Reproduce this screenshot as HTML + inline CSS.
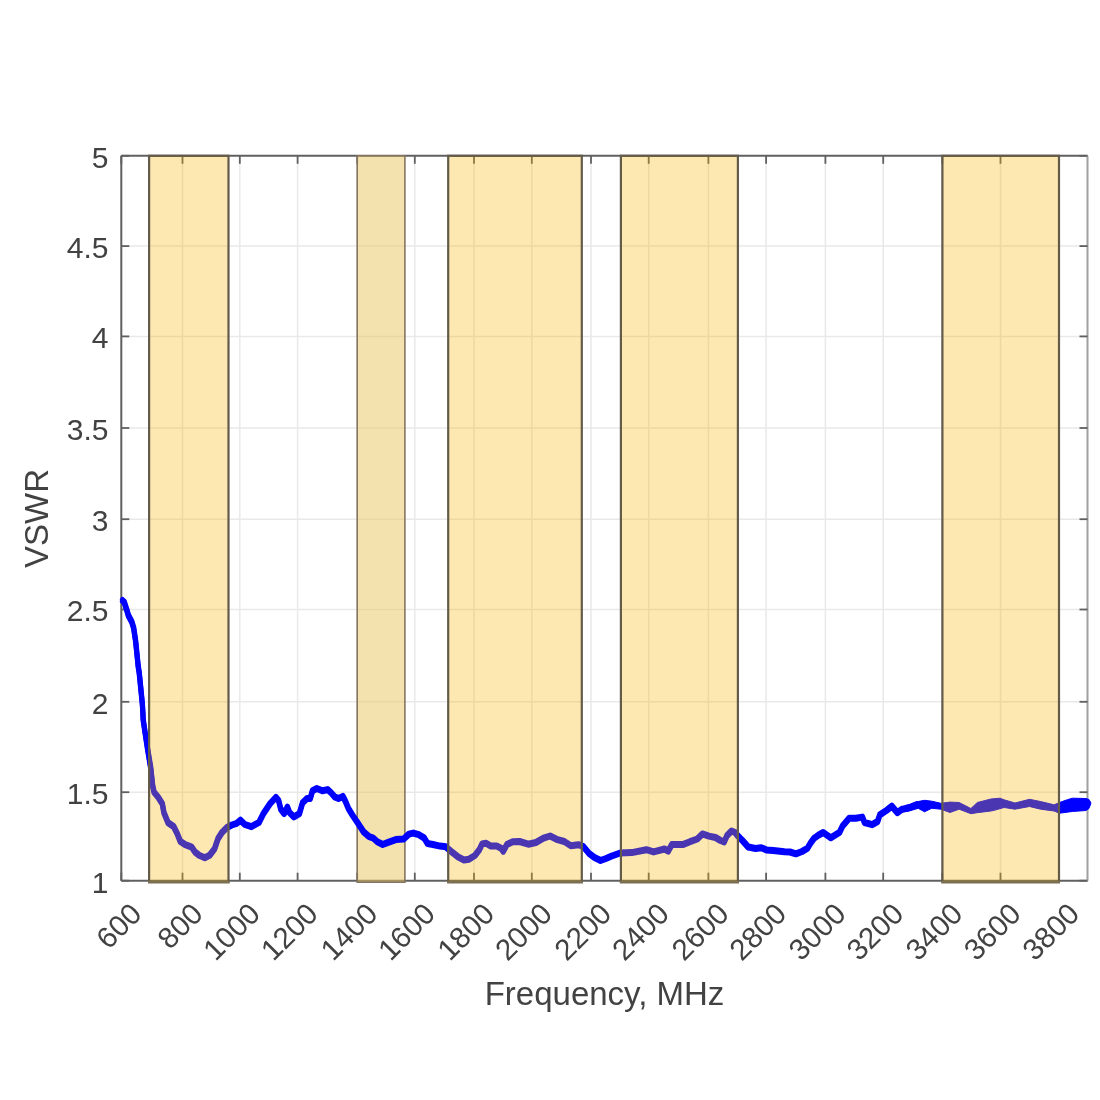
<!DOCTYPE html>
<html><head><meta charset="utf-8"><style>
html,body{margin:0;padding:0;background:#fff;}
svg{display:block;filter:blur(0.55px);}
text{font-family:"Liberation Sans",sans-serif;fill:#424242;}
</style></head><body>
<svg width="1100" height="1100" viewBox="0 0 1100 1100">
<rect width="1100" height="1100" fill="#fff"/>
<g stroke="#e9e9e9" stroke-width="1.5">
<line x1="182.5" y1="155.8" x2="182.5" y2="880.7"/>
<line x1="239.8" y1="155.8" x2="239.8" y2="880.7"/>
<line x1="297.6" y1="155.8" x2="297.6" y2="880.7"/>
<line x1="357.2" y1="155.8" x2="357.2" y2="880.7"/>
<line x1="414.8" y1="155.8" x2="414.8" y2="880.7"/>
<line x1="474.0" y1="155.8" x2="474.0" y2="880.7"/>
<line x1="531.8" y1="155.8" x2="531.8" y2="880.7"/>
<line x1="591.0" y1="155.8" x2="591.0" y2="880.7"/>
<line x1="648.7" y1="155.8" x2="648.7" y2="880.7"/>
<line x1="708.4" y1="155.8" x2="708.4" y2="880.7"/>
<line x1="766.1" y1="155.8" x2="766.1" y2="880.7"/>
<line x1="825.4" y1="155.8" x2="825.4" y2="880.7"/>
<line x1="883.2" y1="155.8" x2="883.2" y2="880.7"/>
<line x1="942.3" y1="155.8" x2="942.3" y2="880.7"/>
<line x1="1000.5" y1="155.8" x2="1000.5" y2="880.7"/>
<line x1="1059.0" y1="155.8" x2="1059.0" y2="880.7"/>
<line x1="121.3" y1="792.2" x2="1087.5" y2="792.2"/>
<line x1="121.3" y1="701.8" x2="1087.5" y2="701.8"/>
<line x1="121.3" y1="609.5" x2="1087.5" y2="609.5"/>
<line x1="121.3" y1="519.2" x2="1087.5" y2="519.2"/>
<line x1="121.3" y1="428" x2="1087.5" y2="428"/>
<line x1="121.3" y1="336.4" x2="1087.5" y2="336.4"/>
<line x1="121.3" y1="246.1" x2="1087.5" y2="246.1"/>
</g>
<g stroke="#606060" stroke-width="2">
<line x1="121.3" y1="155.8" x2="1087.5" y2="155.8"/>
<line x1="121.3" y1="880.7" x2="1087.5" y2="880.7"/>
<line x1="121.3" y1="155.8" x2="121.3" y2="880.7"/>
</g>
<line x1="1087.5" y1="155.8" x2="1087.5" y2="880.7" stroke="#a0a0a0" stroke-width="2"/>
<g stroke="#606060" stroke-width="1.8">
<line x1="121.3" y1="880.7" x2="121.3" y2="872.7"/>
<line x1="121.3" y1="155.8" x2="121.3" y2="163.8"/>
<line x1="182.5" y1="880.7" x2="182.5" y2="872.7"/>
<line x1="182.5" y1="155.8" x2="182.5" y2="163.8"/>
<line x1="239.8" y1="880.7" x2="239.8" y2="872.7"/>
<line x1="239.8" y1="155.8" x2="239.8" y2="163.8"/>
<line x1="297.6" y1="880.7" x2="297.6" y2="872.7"/>
<line x1="297.6" y1="155.8" x2="297.6" y2="163.8"/>
<line x1="357.2" y1="880.7" x2="357.2" y2="872.7"/>
<line x1="357.2" y1="155.8" x2="357.2" y2="163.8"/>
<line x1="414.8" y1="880.7" x2="414.8" y2="872.7"/>
<line x1="414.8" y1="155.8" x2="414.8" y2="163.8"/>
<line x1="474.0" y1="880.7" x2="474.0" y2="872.7"/>
<line x1="474.0" y1="155.8" x2="474.0" y2="163.8"/>
<line x1="531.8" y1="880.7" x2="531.8" y2="872.7"/>
<line x1="531.8" y1="155.8" x2="531.8" y2="163.8"/>
<line x1="591.0" y1="880.7" x2="591.0" y2="872.7"/>
<line x1="591.0" y1="155.8" x2="591.0" y2="163.8"/>
<line x1="648.7" y1="880.7" x2="648.7" y2="872.7"/>
<line x1="648.7" y1="155.8" x2="648.7" y2="163.8"/>
<line x1="708.4" y1="880.7" x2="708.4" y2="872.7"/>
<line x1="708.4" y1="155.8" x2="708.4" y2="163.8"/>
<line x1="766.1" y1="880.7" x2="766.1" y2="872.7"/>
<line x1="766.1" y1="155.8" x2="766.1" y2="163.8"/>
<line x1="825.4" y1="880.7" x2="825.4" y2="872.7"/>
<line x1="825.4" y1="155.8" x2="825.4" y2="163.8"/>
<line x1="883.2" y1="880.7" x2="883.2" y2="872.7"/>
<line x1="883.2" y1="155.8" x2="883.2" y2="163.8"/>
<line x1="942.3" y1="880.7" x2="942.3" y2="872.7"/>
<line x1="942.3" y1="155.8" x2="942.3" y2="163.8"/>
<line x1="1000.5" y1="880.7" x2="1000.5" y2="872.7"/>
<line x1="1000.5" y1="155.8" x2="1000.5" y2="163.8"/>
<line x1="1059.0" y1="880.7" x2="1059.0" y2="872.7"/>
<line x1="1059.0" y1="155.8" x2="1059.0" y2="163.8"/>
<line x1="121.3" y1="880.7" x2="129.3" y2="880.7"/>
<line x1="1087.5" y1="880.7" x2="1079.5" y2="880.7"/>
<line x1="121.3" y1="792.2" x2="129.3" y2="792.2"/>
<line x1="1087.5" y1="792.2" x2="1079.5" y2="792.2"/>
<line x1="121.3" y1="701.8" x2="129.3" y2="701.8"/>
<line x1="1087.5" y1="701.8" x2="1079.5" y2="701.8"/>
<line x1="121.3" y1="609.5" x2="129.3" y2="609.5"/>
<line x1="1087.5" y1="609.5" x2="1079.5" y2="609.5"/>
<line x1="121.3" y1="519.2" x2="129.3" y2="519.2"/>
<line x1="1087.5" y1="519.2" x2="1079.5" y2="519.2"/>
<line x1="121.3" y1="428" x2="129.3" y2="428"/>
<line x1="1087.5" y1="428" x2="1079.5" y2="428"/>
<line x1="121.3" y1="336.4" x2="129.3" y2="336.4"/>
<line x1="1087.5" y1="336.4" x2="1079.5" y2="336.4"/>
<line x1="121.3" y1="246.1" x2="129.3" y2="246.1"/>
<line x1="1087.5" y1="246.1" x2="1079.5" y2="246.1"/>
<line x1="121.3" y1="155.8" x2="129.3" y2="155.8"/>
<line x1="1087.5" y1="155.8" x2="1079.5" y2="155.8"/>
</g>
<rect x="357.2" y="155.8" width="47.7" height="726.4" fill="rgb(231,197,91)" fill-opacity="0.5" stroke="#857560" stroke-width="1.6"/>
<g fill="none" stroke="#0000ff" stroke-width="5.2" stroke-linejoin="round" stroke-linecap="round">
<path d="M122.5,600.5 L124.2,602.0 L126.5,609.1 L128.4,615.5 L131.8,621.8 L133.7,628.2 L135.6,640.9 L136.9,653.6 L138.2,666.4 L139.2,672.7 L140.5,685.5 L142.4,704.5 L143.2,720.0 L147.3,747.3 L150.7,767.7 L152.7,786.0 L154.1,792.3 L158.2,797.2 L162.3,803.7 L163.9,812.7 L168.0,822.6 L173.7,826.6 L177.0,833.2 L180.3,841.4 L185.2,844.6 L191.7,847.1 L195.0,852.0 L199.1,855.3 L204.8,857.7 L209.7,855.3 L214.6,848.7 L217.9,838.9 L222.0,832.4 L226.9,827.5 L231.8,825.0 L236.7,823.4 L240.5,820.2 L244.8,824.5 L251.4,826.7 L259.0,822.4 L263.4,813.6 L269.9,803.8 L275.9,797.3 L278.6,800.5 L280.8,809.3 L284.1,813.6 L287.4,807.1 L289.5,812.5 L293.9,816.9 L299.4,813.6 L302.6,802.7 L307.0,798.4 L310.3,798.4 L312.5,790.7 L316.8,788.5 L322.3,790.7 L327.7,789.6 L330.9,792.5 L334.7,796.9 L338.5,798.5 L342.9,796.4 L345.1,800.7 L348.4,808.4 L352.7,815.5 L358.2,823.6 L363.6,831.8 L369.1,836.7 L372.9,837.8 L377.3,841.8 L382.7,844.5 L388.2,842.4 L395.8,839.6 L403.5,839.1 L408.9,834.2 L413.3,833.1 L418.7,834.7 L424.2,838.0 L427.5,843.5 L432.9,844.5 L440.0,846.1 L445.8,846.8 L450.9,851.2 L458.2,857.0 L464.0,859.9 L469.1,859.2 L474.9,855.5 L479.3,849.7 L482.2,843.9 L485.8,843.2 L490.9,846.1 L496.7,846.1 L501.1,848.3 L503.3,851.2 L506.9,844.6 L512.7,841.7 L519.5,841.5 L528.3,844.2 L535.9,842.5 L543.5,838.2 L550.1,836.0 L556.6,839.3 L564.3,841.5 L570.8,845.8 L578.5,844.7 L583.3,846.5 L589.1,853.5 L594.5,857.5 L600.5,860.5 L606.0,858.5 L611.8,856.0 L620.2,853.0 L631.8,852.6 L646.4,849.7 L653.6,851.9 L664.5,849.0 L668.2,851.2 L671.8,844.6 L682.7,844.6 L690.0,841.7 L697.3,839.0 L702.4,833.9 L708.9,836.1 L715.5,837.5 L720.5,840.5 L724.2,841.9 L727.1,835.4 L731.5,831.0 L735.1,832.5 L738.0,836.1 L742.4,840.5 L748.2,847.0 L755.5,848.5 L761.3,847.7 L766.4,849.9 L773.2,850.5 L784.5,851.8 L790.0,852.0 L795.9,853.8 L802.0,851.5 L807.3,848.4 L810.6,843.0 L814.1,838.2 L818.7,835.0 L823.2,832.5 L830.7,837.8 L839.5,832.4 L842.7,825.8 L849.3,818.2 L855.8,818.2 L862.4,817.1 L864.5,822.5 L872.2,824.7 L877.6,821.5 L879.8,814.9 L886.4,810.5 L891.8,806.2 L897.3,812.7 L901.6,809.5 L910.4,807.3 L916.9,804.5" transform="translate(0,-0.9)"/>
<path d="M122.5,600.5 L124.2,602.0 L126.5,609.1 L128.4,615.5 L131.8,621.8 L133.7,628.2 L135.6,640.9 L136.9,653.6 L138.2,666.4 L139.2,672.7 L140.5,685.5 L142.4,704.5 L143.2,720.0 L147.3,747.3 L150.7,767.7 L152.7,786.0 L154.1,792.3 L158.2,797.2 L162.3,803.7 L163.9,812.7 L168.0,822.6 L173.7,826.6 L177.0,833.2 L180.3,841.4 L185.2,844.6 L191.7,847.1 L195.0,852.0 L199.1,855.3 L204.8,857.7 L209.7,855.3 L214.6,848.7 L217.9,838.9 L222.0,832.4 L226.9,827.5 L231.8,825.0 L236.7,823.4 L240.5,820.2 L244.8,824.5 L251.4,826.7 L259.0,822.4 L263.4,813.6 L269.9,803.8 L275.9,797.3 L278.6,800.5 L280.8,809.3 L284.1,813.6 L287.4,807.1 L289.5,812.5 L293.9,816.9 L299.4,813.6 L302.6,802.7 L307.0,798.4 L310.3,798.4 L312.5,790.7 L316.8,788.5 L322.3,790.7 L327.7,789.6 L330.9,792.5 L334.7,796.9 L338.5,798.5 L342.9,796.4 L345.1,800.7 L348.4,808.4 L352.7,815.5 L358.2,823.6 L363.6,831.8 L369.1,836.7 L372.9,837.8 L377.3,841.8 L382.7,844.5 L388.2,842.4 L395.8,839.6 L403.5,839.1 L408.9,834.2 L413.3,833.1 L418.7,834.7 L424.2,838.0 L427.5,843.5 L432.9,844.5 L440.0,846.1 L445.8,846.8 L450.9,851.2 L458.2,857.0 L464.0,859.9 L469.1,859.2 L474.9,855.5 L479.3,849.7 L482.2,843.9 L485.8,843.2 L490.9,846.1 L496.7,846.1 L501.1,848.3 L503.3,851.2 L506.9,844.6 L512.7,841.7 L519.5,841.5 L528.3,844.2 L535.9,842.5 L543.5,838.2 L550.1,836.0 L556.6,839.3 L564.3,841.5 L570.8,845.8 L578.5,844.7 L583.3,846.5 L589.1,853.5 L594.5,857.5 L600.5,860.5 L606.0,858.5 L611.8,856.0 L620.2,853.0 L631.8,852.6 L646.4,849.7 L653.6,851.9 L664.5,849.0 L668.2,851.2 L671.8,844.6 L682.7,844.6 L690.0,841.7 L697.3,839.0 L702.4,833.9 L708.9,836.1 L715.5,837.5 L720.5,840.5 L724.2,841.9 L727.1,835.4 L731.5,831.0 L735.1,832.5 L738.0,836.1 L742.4,840.5 L748.2,847.0 L755.5,848.5 L761.3,847.7 L766.4,849.9 L773.2,850.5 L784.5,851.8 L790.0,852.0 L795.9,853.8 L802.0,851.5 L807.3,848.4 L810.6,843.0 L814.1,838.2 L818.7,835.0 L823.2,832.5 L830.7,837.8 L839.5,832.4 L842.7,825.8 L849.3,818.2 L855.8,818.2 L862.4,817.1 L864.5,822.5 L872.2,824.7 L877.6,821.5 L879.8,814.9 L886.4,810.5 L891.8,806.2 L897.3,812.7 L901.6,809.5 L910.4,807.3 L916.9,804.5" transform="translate(0,0.9)"/>
</g>
<path d="M906.0,805.3 L909.1,804.8 L918.2,801.5 L924.5,800.3 L931.8,801.2 L940.9,803.3 L950.0,802.1 L959.1,802.5 L965.0,805.5 L970.9,808.5 L977.3,802.5 L990.9,799.0 L1000.0,798.2 L1004.1,799.8 L1015.0,803.0 L1029.5,799.3 L1040.5,801.5 L1054.1,804.8 L1059.5,802.5 L1065.0,800.5 L1072.3,798.2 L1085.9,798.5 L1089.0,799.5 L1091.0,803.0 L1089.0,808.5 L1085.9,810.5 L1072.3,811.5 L1059.5,813.2 L1054.1,811.0 L1040.5,809.2 L1029.5,806.5 L1015.0,809.2 L1004.1,807.5 L995.0,810.1 L990.9,811.0 L977.3,812.7 L970.9,813.7 L959.1,809.2 L950.0,812.5 L940.9,809.2 L931.8,808.3 L924.5,811.8 L918.2,808.3 L909.1,811.0 L906.0,811.5 Z" fill="#0000ff" stroke="#0000ff" stroke-width="1" stroke-linejoin="round"/>
<g fill="rgb(250,180,0)" fill-opacity="0.3" stroke="#635a4a" stroke-width="2.2">
<rect x="149.1" y="155.8" width="79.4" height="726.4"/>
<rect x="448.2" y="155.8" width="133.6" height="726.4"/>
<rect x="620.9" y="155.8" width="117.0" height="726.4"/>
<rect x="942.4" y="155.8" width="116.6" height="726.4"/>
</g>
<g stroke="#7d7050" stroke-width="2.4">
<line x1="148.1" y1="882.0" x2="229.5" y2="882.0"/>
<line x1="447.2" y1="882.0" x2="582.8" y2="882.0"/>
<line x1="619.9" y1="882.0" x2="738.9" y2="882.0"/>
<line x1="941.4" y1="882.0" x2="1060" y2="882.0"/>
</g>
<g font-size="30">
<text x="108.5" y="892.5" text-anchor="end">1</text>
<text x="108.5" y="804.0" text-anchor="end">1.5</text>
<text x="108.5" y="713.6" text-anchor="end">2</text>
<text x="108.5" y="621.3" text-anchor="end">2.5</text>
<text x="108.5" y="531.0" text-anchor="end">3</text>
<text x="108.5" y="439.8" text-anchor="end">3.5</text>
<text x="108.5" y="348.2" text-anchor="end">4</text>
<text x="108.5" y="257.9" text-anchor="end">4.5</text>
<text x="108.5" y="167.6" text-anchor="end">5</text>
</g>
<g font-size="29.5">
<text transform="translate(138.8,911) rotate(-45)" x="0" y="6.5" text-anchor="end">600</text>
<text transform="translate(200.0,911) rotate(-45)" x="0" y="6.5" text-anchor="end">800</text>
<text transform="translate(257.3,911) rotate(-45)" x="0" y="6.5" text-anchor="end">1000</text>
<text transform="translate(315.1,911) rotate(-45)" x="0" y="6.5" text-anchor="end">1200</text>
<text transform="translate(374.7,911) rotate(-45)" x="0" y="6.5" text-anchor="end">1400</text>
<text transform="translate(432.3,911) rotate(-45)" x="0" y="6.5" text-anchor="end">1600</text>
<text transform="translate(491.5,911) rotate(-45)" x="0" y="6.5" text-anchor="end">1800</text>
<text transform="translate(549.3,911) rotate(-45)" x="0" y="6.5" text-anchor="end">2000</text>
<text transform="translate(608.5,911) rotate(-45)" x="0" y="6.5" text-anchor="end">2200</text>
<text transform="translate(666.2,911) rotate(-45)" x="0" y="6.5" text-anchor="end">2400</text>
<text transform="translate(725.9,911) rotate(-45)" x="0" y="6.5" text-anchor="end">2600</text>
<text transform="translate(783.6,911) rotate(-45)" x="0" y="6.5" text-anchor="end">2800</text>
<text transform="translate(842.9,911) rotate(-45)" x="0" y="6.5" text-anchor="end">3000</text>
<text transform="translate(900.7,911) rotate(-45)" x="0" y="6.5" text-anchor="end">3200</text>
<text transform="translate(959.8,911) rotate(-45)" x="0" y="6.5" text-anchor="end">3400</text>
<text transform="translate(1018.0,911) rotate(-45)" x="0" y="6.5" text-anchor="end">3600</text>
<text transform="translate(1076.5,911) rotate(-45)" x="0" y="6.5" text-anchor="end">3800</text>
</g>
<text transform="translate(48,518.5) rotate(-90)" text-anchor="middle" font-size="33">VSWR</text>
<text x="604.5" y="1005" text-anchor="middle" font-size="33">Frequency, MHz</text>
</svg>
</body></html>
